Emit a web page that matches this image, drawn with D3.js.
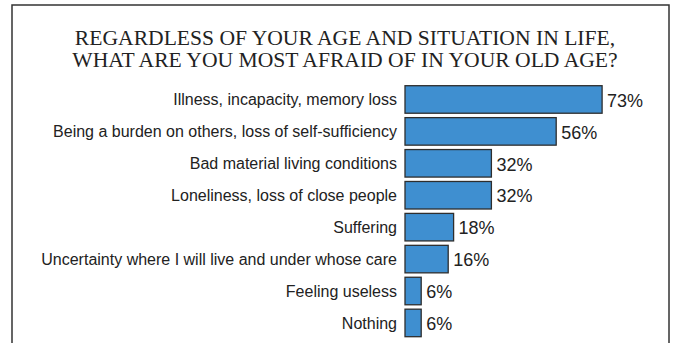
<!DOCTYPE html>
<html>
<head>
<meta charset="utf-8">
<script src="https://cdn.jsdelivr.net/npm/d3@7/dist/d3.min.js"></script>
<style>
  html, body { margin: 0; padding: 0; background: #fff; }
  svg { display: block; }
</style>
</head>
<body>
<svg id="chart" width="675" height="343"></svg>
<script>
// Survey: fears about old age (share of respondents, %)
const titleLines = [
  "REGARDLESS OF YOUR AGE AND SITUATION IN LIFE,",
  "WHAT ARE YOU MOST AFRAID OF IN YOUR OLD AGE?"
];
const categories = [
  "Illness, incapacity, memory loss",
  "Being a burden on others, loss of self-sufficiency",
  "Bad material living conditions",
  "Loneliness, loss of close people",
  "Suffering",
  "Uncertainty where I will live and under whose care",
  "Feeling useless",
  "Nothing"
];
const values = [73, 56, 32, 32, 18, 16, 6, 6];

const svg = d3.select("#chart");
const W = 675, H = 343;

// outer frame (open at the bottom edge of the view)
svg.append("rect")
  .attr("x", 12).attr("y", 5)
  .attr("width", 657).attr("height", H + 20)
  .attr("fill", "none")
  .attr("stroke", "#333")
  .attr("stroke-width", 1.5);

// title
svg.append("g")
  .selectAll("text")
  .data(titleLines)
  .join("text")
  .attr("x", 345)
  .attr("y", (d, i) => 44.5 + i * 22.5)
  .attr("text-anchor", "middle")
  .attr("font-family", "'Liberation Serif', 'Times New Roman', serif")
  .attr("font-size", 21.6)
  .attr("fill", "#222")
  .text(d => d);

const x = d3.scaleLinear().domain([0, 100]).range([405, 675]);
const y = d3.scaleBand()
  .domain(categories)
  .range([83.5, 338.9])
  .paddingInner(0.138)
  .paddingOuter(0.069);

const rows = categories.map((c, i) => ({ c, v: values[i] }));

svg.append("g")
  .selectAll("rect")
  .data(rows)
  .join("rect")
  .attr("x", x(0))
  .attr("y", d => y(d.c))
  .attr("width", d => x(d.v) - x(0))
  .attr("height", y.bandwidth())
  .attr("fill", "#3f8fd0")
  .attr("stroke", "#2e2e2e")
  .attr("stroke-width", 1.3);

svg.append("g")
  .selectAll("text")
  .data(rows)
  .join("text")
  .attr("x", 397)
  .attr("y", d => y(d.c) + y.bandwidth() / 2)
  .attr("dy", "0.35em")
  .attr("text-anchor", "end")
  .attr("font-family", "'Liberation Sans', Arial, sans-serif")
  .attr("font-size", 16)
  .attr("fill", "#222")
  .text(d => d.c);

svg.append("g")
  .selectAll("text")
  .data(rows)
  .join("text")
  .attr("x", d => x(d.v) + 5)
  .attr("y", d => y(d.c) + y.bandwidth() / 2)
  .attr("dy", "0.4em")
  .attr("font-family", "'Liberation Sans', Arial, sans-serif")
  .attr("font-size", 18)
  .attr("fill", "#222")
  .text(d => d.v + "%");
</script>
</body>
</html>
